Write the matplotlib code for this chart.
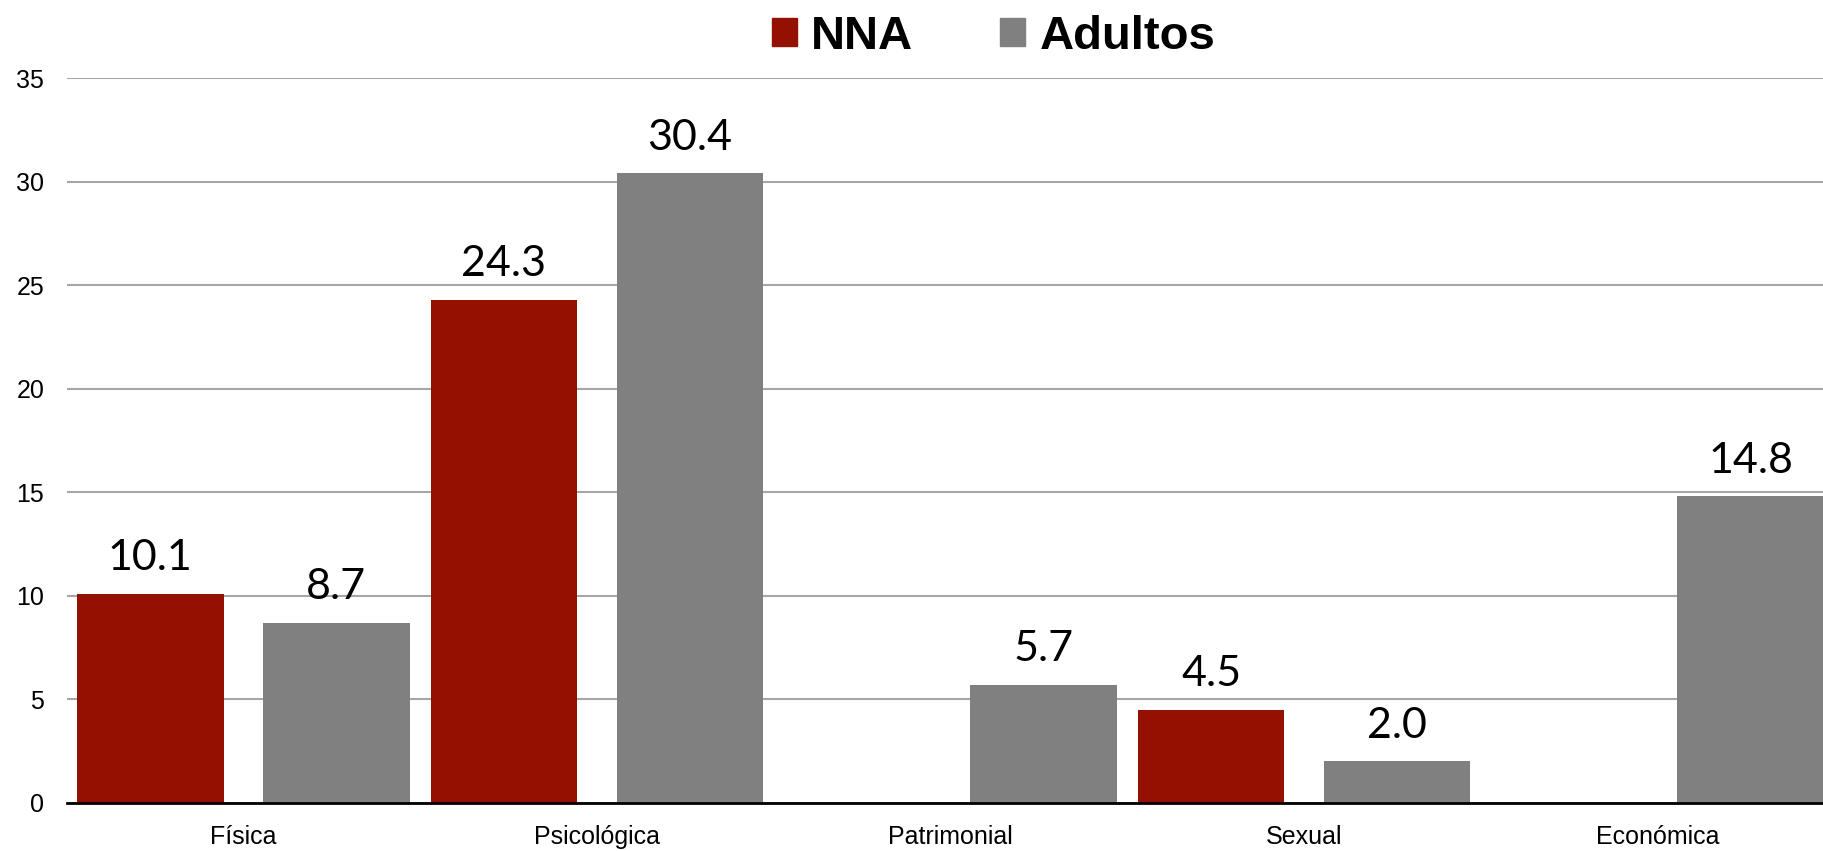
import matplotlib.pyplot as plt
import numpy as np
from matplotlib.patches import Patch

categories = ["Física", "Psicológica", "Patrimonial", "Sexual", "Económica"]
nna = [10.1, 24.3, None, 4.5, None]
adultos = [8.7, 30.4, 5.7, 2.0, 14.8]
series_names = ["NNA", "Adultos"]
yticks = [0, 5, 10, 15, 20, 25, 30, 35]

red = "#941100"
gray = "#808080"

fig = plt.figure(figsize=(18.24, 8.51), dpi=100)
# axes runs slightly past the right edge of the figure, as in the original
ax = fig.add_axes([66.5 / 1824, 48.3 / 851, 1768 / 1824, 724.7 / 851])

x = np.arange(len(categories))
w = 0.415
off = 0.263

for xi, v in zip(x, nna):
    if v is None:
        continue
    ax.bar(xi - off, v, width=w, color=red, zorder=2)
    ax.annotate(f"{v:.1f}", (xi - off, v), xytext=(0, 17), textcoords="offset points",
                ha="center", va="baseline", fontsize=31, family="Lato")

for xi, v in zip(x, adultos):
    ax.bar(xi + off, v, width=w, color=gray, zorder=2)
    ax.annotate(f"{v:.1f}", (xi + off, v), xytext=(0, 17), textcoords="offset points",
                ha="center", va="baseline", fontsize=31, family="Lato")

ax.set_xlim(-0.5, len(categories) - 0.5)
ax.set_ylim(0, 35)
ax.set_yticks(yticks)
ax.set_xticks(x)
ax.set_xticklabels(categories, fontsize=18, family="Liberation Sans")
ax.tick_params(axis="y", labelsize=18, length=0, pad=16)
ax.tick_params(axis="x", length=0, pad=16)
for lab in ax.get_yticklabels():
    lab.set_family("Liberation Sans")

ax.grid(axis="y", color="#a6a6a6", linewidth=1.5, zorder=0)
for s in ["top", "right", "left"]:
    ax.spines[s].set_visible(False)
ax.spines["bottom"].set_color("black")
ax.spines["bottom"].set_linewidth(2)
ax.spines["bottom"].set_zorder(3)

handles = [Patch(color=red), Patch(color=gray)]
fig.legend(handles, series_names, loc="center", bbox_to_anchor=(0.5447, 0.957), ncol=2,
           frameon=False, handlelength=0.53, handleheight=0.53, handletextpad=0.3,
           columnspacing=1.85, prop={"family": "Liberation Sans", "weight": "bold", "size": 34})

plt.savefig("out.png", dpi=100)
